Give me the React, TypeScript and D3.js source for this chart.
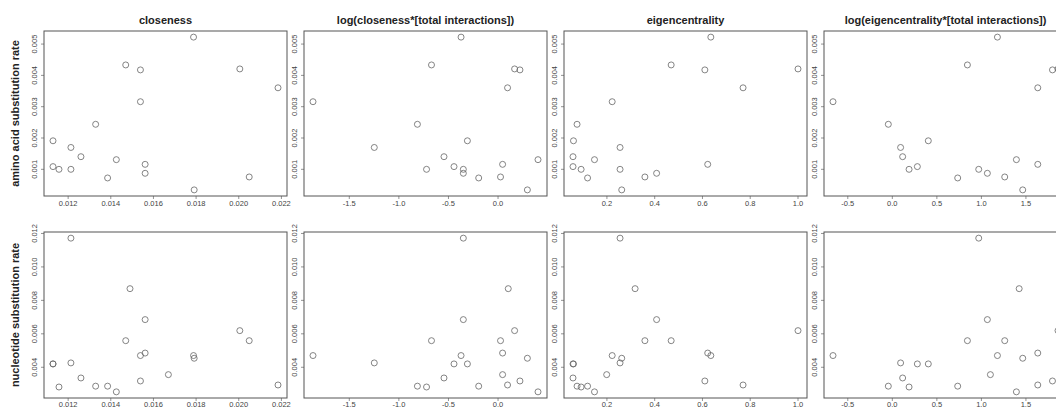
import React, { useEffect } from "react";
import * as d3 from "d3";

// one entry per gene (two genes have no amino acid rate)
const genes = ["a","b","c","d","e","f","g","h","i","j","k","l","m","n","o","p","q","r","s","x1","x2"];
const closeness = [0.01788,0.0147,0.01539,0.02005,0.01539,0.01329,0.01129,0.01213,0.0126,0.01426,0.01129,0.01157,0.01213,0.01561,0.01561,0.01385,0.02049,0.01791,0.02184,0.0167,0.0149];
const logCloseness = [-0.373,-0.671,0.221,0.167,-1.866,-0.813,-0.309,-1.248,-0.545,0.403,-0.444,-0.721,-0.35,0.046,-0.35,-0.195,0.025,0.296,0.096,0.046,0.103];
const eigencentrality = [0.635,0.469,0.61,1.0,0.222,0.075,0.06,0.255,0.058,0.148,0.058,0.092,0.255,0.622,0.408,0.119,0.359,0.262,0.77,0.199,0.318];
const logEigen = [1.18,0.843,1.798,1.86,-0.666,-0.045,0.404,0.093,0.116,1.393,0.281,0.188,0.97,1.633,1.067,0.734,1.262,1.464,1.633,1.101,1.424];
const aaRate: (number | null)[] = [0.005222,0.004333,0.004175,0.004206,0.003159,0.002438,0.001911,0.001698,0.001403,0.001308,0.001086,0.001,0.001,0.001159,0.000873,0.000724,0.000756,0.000343,0.003603,null,null];
const ntRate: (number | null)[] = [0.0047,0.00559,0.00318,0.00619,0.0047,0.00287,0.0042,0.00426,0.00336,0.00253,0.0042,0.00282,0.01172,0.00485,0.00685,0.00287,0.00559,0.00454,0.00294,0.00356,0.0087];

const panelTitles = [
  "closeness",
  "log(closeness*[total interactions])",
  "eigencentrality",
  "log(eigencentrality*[total interactions])",
];
const rowTitles = ["amino acid substitution rate", "nucleotide substitution rate"];

const xTicks = [
  [0.012, 0.014, 0.016, 0.018, 0.02, 0.022],
  [-1.5, -1.0, -0.5, 0.0],
  [0.2, 0.4, 0.6, 0.8, 1.0],
  [-0.5, 0.0, 0.5, 1.0, 1.5],
];
const xTickLabels = [
  ["0.012", "0.014", "0.016", "0.018", "0.020", "0.022"],
  ["-1.5", "-1.0", "-0.5", "0.0"],
  ["0.2", "0.4", "0.6", "0.8", "1.0"],
  ["-0.5", "0.0", "0.5", "1.0", "1.5"],
];
const yTicks = [
  [0.001, 0.002, 0.003, 0.004, 0.005],
  [0.004, 0.006, 0.008, 0.01, 0.012],
];
const yTickLabels = [
  ["0.001", "0.002", "0.003", "0.004", "0.005"],
  ["0.004", "0.006", "0.008", "0.010", "0.012"],
];

const xSeries = [closeness, logCloseness, eigencentrality, logEigen];
const ySeries = [aaRate, ntRate];

const W = 1056;
const H = 408;
const panelLefts = [44, 304, 564, 824];
const panelW = 243;
const rowTops = [31, 232];
const rowHeights = [165, 166];
const labelGap = [10, 8.5];
const FONT = "'Liberation Sans', Arial, sans-serif";

function padded(vals: number[]): [number, number] {
  const [lo, hi] = d3.extent(vals) as [number, number];
  const p = (hi - lo) * 0.04;
  return [lo - p, hi + p];
}

export default function App() {
  useEffect(() => {
    document.body.style.margin = "0";
  }, []);

  const panels: React.ReactNode[] = [];
  for (let r = 0; r < 2; r++) {
    const yv = ySeries[r];
    const idx = genes.map((_, i) => i).filter((i) => yv[i] !== null);
    const top = rowTops[r];
    const h = rowHeights[r];
    const y = d3
      .scaleLinear()
      .domain(padded(idx.map((i) => yv[i] as number)))
      .range([top + h, top]);
    for (let c = 0; c < 4; c++) {
      const left = panelLefts[c];
      const xv = xSeries[c];
      const x = d3
        .scaleLinear()
        .domain(padded(idx.map((i) => xv[i])))
        .range([left, left + panelW]);
      panels.push(
        <g key={`p${r}${c}`}>
          {r === 0 && (
            <text
              x={left + panelW / 2}
              y={top - 7}
              textAnchor="middle"
              fontSize={11}
              fontWeight="bold"
              fill="#222"
            >
              {panelTitles[c]}
            </text>
          )}
          {xTicks[c].map((t, k) => (
            <g key={`xt${k}`}>
              <line x1={x(t)} x2={x(t)} y1={top + h} y2={top + h + 3} stroke="#666" strokeWidth={0.7} />
              <text x={x(t)} y={top + h + labelGap[r]} textAnchor="middle" fontSize={7.5} fill="#444">
                {xTickLabels[c][k]}
              </text>
            </g>
          ))}
          {yTicks[r].map((t, k) => (
            <g key={`yt${k}`}>
              <line x1={left - 3} x2={left} y1={y(t)} y2={y(t)} stroke="#666" strokeWidth={0.7} />
              <text
                transform={`translate(${left - 7.5},${y(t)}) rotate(-90)`}
                textAnchor="middle"
                fontSize={7.5}
                fill="#444"
              >
                {yTickLabels[r][k]}
              </text>
            </g>
          ))}
          <rect x={left} y={top} width={panelW} height={h} fill="none" stroke="#555" strokeWidth={1} />
          {idx.map((i) => (
            <circle
              key={genes[i]}
              cx={x(xv[i])}
              cy={y(yv[i] as number)}
              r={3}
              fill="none"
              stroke="#666"
              strokeWidth={0.8}
            />
          ))}
        </g>
      );
    }
  }

  return (
    <svg
      width={W}
      height={H}
      style={{ position: "absolute", left: 0, top: 0, background: "#fff", fontFamily: FONT }}
    >
      <rect x={0} y={0} width={W} height={H} fill="#fff" />
      {rowTitles.map((t, r) => (
        <text
          key={t}
          transform={`translate(19,${rowTops[r] + rowHeights[r] / 2}) rotate(-90)`}
          textAnchor="middle"
          fontSize={11}
          fontWeight="bold"
          fill="#222"
        >
          {t}
        </text>
      ))}
      {panels}
    </svg>
  );
}
